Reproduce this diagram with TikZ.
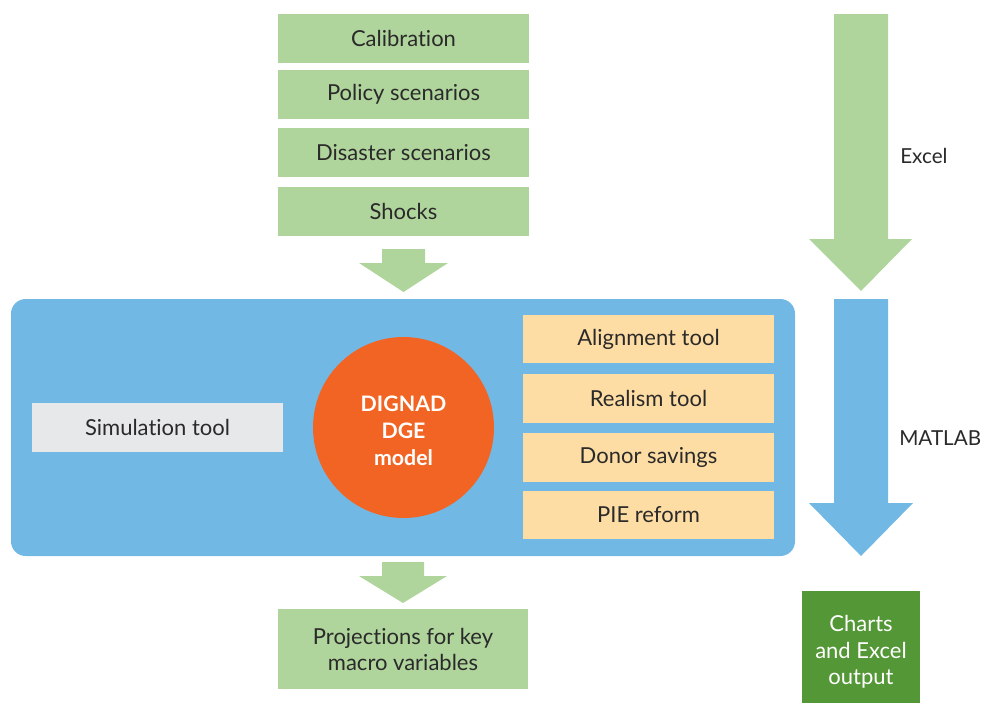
\documentclass[tikz,border=0pt]{standalone}
\usepackage{fontspec}
\setmainfont{Lato}[Ligatures=NoCommon]
\definecolor{lgreen}{HTML}{AFD59C}
\definecolor{pblue}{HTML}{72B8E4}
\definecolor{corange}{HTML}{F26423}
\definecolor{peach}{HTML}{FDDDA3}
\definecolor{lgrey}{HTML}{E7E8EA}
\definecolor{dgreen}{HTML}{549736}
\definecolor{txt}{HTML}{2B2A2A}
\begin{document}
\begin{tikzpicture}[x=0.75pt,y=-0.75pt,
  every node/.style={font=\fontsize{16.5}{19.5}\selectfont, text=txt, align=center, inner sep=0pt},
  gbox/.style={fill=lgreen, minimum width=188.25pt, minimum height=36.75pt},
  obox/.style={fill=peach, minimum width=188.25pt, minimum height=36.4pt},
  lbl/.style={anchor=west, font=\fontsize{15.5}{19.5}\selectfont}]
\useasboundingbox (0,0) rectangle (985,704);
% top input boxes
\node[gbox] (cal) at (403.5,38.5) {Calibration};
\node[gbox] (pol) at (403.5,94.5) {Policy scenarios};
\node[gbox] (dis) at (403.5,152.5) {Disaster scenarios};
\node[gbox] (sho) at (403.5,211.5) {Shocks};
% arrow into panel
\fill[lgreen] (382,249) -- (425,249) -- (425,263) -- (448,263) -- (403.5,292) -- (359,263) -- (382,263) -- cycle;
% panel
\node[fill=pblue, rounded corners=11pt, minimum width=588pt, minimum height=192.75pt] (panel) at (403,427.5) {};
\node[fill=lgrey, minimum width=188.25pt, minimum height=36.75pt] (sim) at (157.5,427.5) {Simulation tool};
\node[circle, fill=corange, minimum size=135.75pt] (dge) at (403.5,427.5) {};
\node[text=white, font=\bfseries\fontsize{16}{20.25}\selectfont] (dgetxt) at (403.5,431) {DIGNAD\\DGE\\model};
\node[obox] (ali) at (648.5,339) {Alignment tool};
\node[obox] (rea) at (648.5,398.5) {Realism tool};
\node[obox] (don) at (648.5,457.5) {Donor savings};
\node[obox] (pie) at (648.5,515) {PIE reform};
% arrow out of panel
\fill[lgreen] (382,562) -- (424,562) -- (424,576) -- (447,576) -- (403,603) -- (359,576) -- (382,576) -- cycle;
\node[fill=lgreen, minimum width=187.5pt, minimum height=60pt] (proj) at (403,649) {Projections for key\\macro variables};
% right-side process arrows
\fill[lgreen] (834,14) -- (888,14) -- (888,239) -- (912,239) -- (861,291) -- (809,239) -- (834,239) -- cycle;
\fill[pblue] (834,299) -- (888,299) -- (888,503) -- (913,503) -- (861,556) -- (809,503) -- (834,503) -- cycle;
\node[lbl] (excel) at (900,156) {Excel};
\node[lbl] (matlab) at (899,438) {MATLAB};
\node[fill=dgreen, minimum width=88.5pt, minimum height=84pt] (charts) at (861,647) {};
\node[text=white, font=\fontsize{16.5}{19.9}\selectfont] (chartstxt) at (861,652) {Charts\\and Excel\\output};
\end{tikzpicture}
\end{document}
